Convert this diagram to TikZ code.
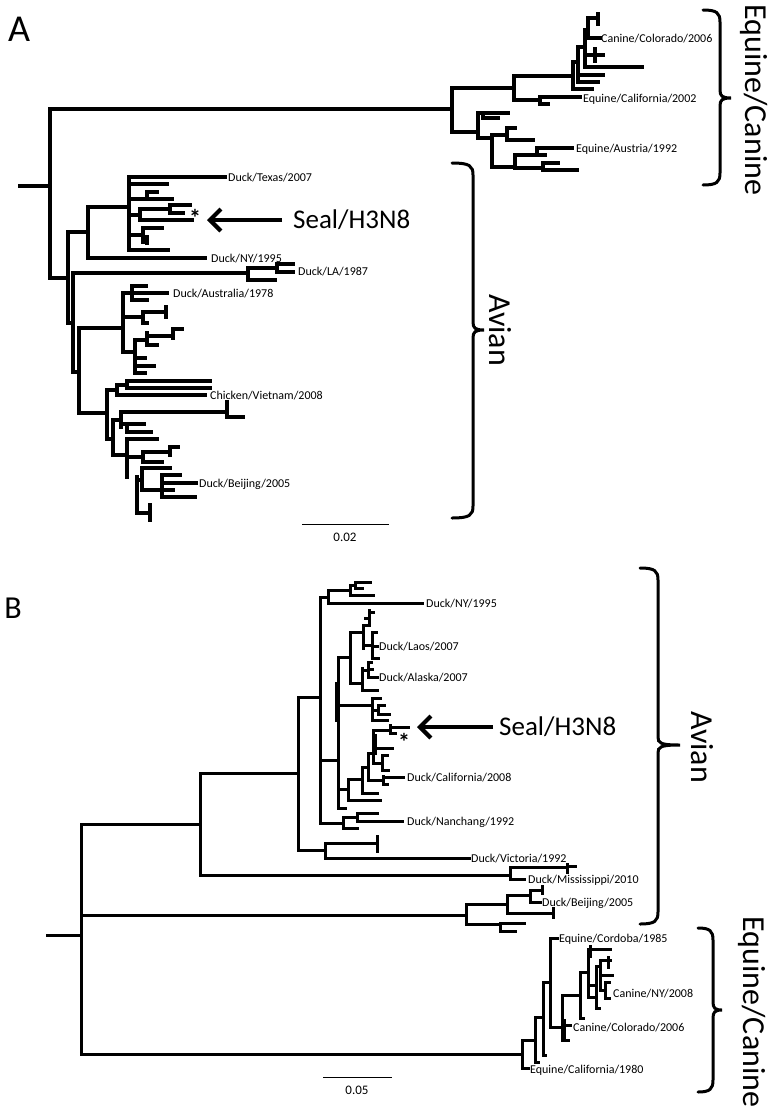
\documentclass[tikz,border=0pt]{standalone}
\usepackage{fontspec}
\setmainfont{Carlito}
\usetikzlibrary{arrows.meta}

\tikzset{
  leaf/.style={anchor=west, inner sep=0pt, text height=8pt, text depth=0pt, font=\fontsize{12}{12}\selectfont},
  cladename/.style={rotate=-90, inner sep=0pt, font=\fontsize{32}{32}\selectfont},
  bracket/.style={line width=3pt, line cap=round},
  seal arrow/.style={line width=4.8pt, -{Straight Barb[length=11pt, width=22pt, line width=4.2pt]}},
  star/.style={inner sep=0pt, font=\bfseries\fontsize{24}{24}\selectfont}
}

% #1 end x, #2 body x, #3 cusp x, #4 top y, #5 cusp y, #6 bottom y
\newcommand{\cladebrace}[6]{%
  \draw[bracket] (#1,#4) .. controls ({#2-3},#4) and (#2,{#4+3}) .. (#2,{#4+12})
    -- (#2,{#5-8}) .. controls (#2,{#5-2}) and ({#2+2},#5) .. (#3,#5)
    .. controls ({#2+2},#5) and (#2,{#5+2}) .. (#2,{#5+8})
    -- (#2,{#6-12}) .. controls (#2,{#6-3}) and ({#2-3},#6) .. (#1,#6);}

\begin{document}
\begin{tikzpicture}[x=1pt, y=-1pt,
  branchA/.style={line width=3.3pt, line cap=rect},
  branchB/.style={line width=3pt, line cap=rect}]
  \useasboundingbox (0,0) rectangle (771,1114);

  % panel A
  \node[font=\fontsize{38}{38}\selectfont, inner sep=0pt] (panelA) at (19,29) {A};
  \foreach \x/\ya/\yb in {50/109/278, 452/88/132, 514/76/100, 540/97/104, 573/62/89, 578/47/82,
      585/30/67, 588/18/38, 598/14/24, 595/49/61, 478/113/138, 483/113/118, 492/135/167,
      507/128/140, 515/155/168, 537/148/155, 543/163/170,
      68/232/323, 73/273/372, 79/328/413, 88/207/258, 129/177/250, 147/192/199, 140/209/220,
      170/205/213, 143/228/242, 147/237/243, 248/268/280, 277/264/272, 123/293/352, 132/286/300,
      143/312/323, 166/307/317, 135/340/373, 147/333/345, 173/329/338, 107/390/439, 117/385/395,
      127/381/388, 113/420/455, 121/412/427, 227/402/417, 127/424/432, 127/439/477, 143/452/462,
      170/447/455, 137/477/513, 142/468/490, 162/475/497, 150/505/520}
    \draw[branchA] (\x,\ya) -- (\x,\yb);
  \foreach \y/\xa/\xb in {186/20/50, 109/50/452, 88/452/514, 132/452/478, 76/514/573, 100/514/540,
      97/540/580, 104/540/548, 62/573/578, 89/573/592, 47/578/585, 75/578/603, 82/578/598,
      30/585/588, 67/585/642, 55/585/603, 18/588/598, 38/588/600, 113/478/508, 118/483/498,
      138/478/492, 135/492/507, 128/507/515, 140/507/533, 167/492/515, 155/515/545, 148/537/572,
      168/515/543, 163/543/558, 170/543/577}
    \draw[branchA] (\xa,\y) -- (\xb,\y);
  \foreach \y/\xa/\xb in {278/50/68, 232/68/88, 323/68/73, 273/73/248, 372/73/79, 328/79/123,
      413/79/107, 207/88/129, 258/88/205, 177/129/225, 184/129/167, 199/129/172, 192/147/157,
      215/129/140, 209/140/170, 220/140/192, 205/170/190, 213/170/183, 235/129/143, 228/143/162,
      242/143/147, 250/129/168, 268/248/277, 264/277/293, 272/277/293, 280/248/275, 293/123/132,
      286/132/146, 293/132/167, 300/132/147, 317/123/143, 312/143/166, 323/143/147, 352/123/135,
      340/135/147, 336/147/173, 329/173/182, 345/147/157, 358/135/145, 366/135/154, 373/135/145,
      390/107/117, 385/117/127, 381/127/210, 388/127/210, 395/117/205, 439/107/113, 420/113/121,
      412/121/227, 417/227/243, 424/121/144, 432/127/151, 455/113/127, 439/127/157, 457/127/143,
      452/143/170, 447/170/178, 462/143/162, 480/137/142, 468/142/170, 490/142/173, 475/162/180,
      483/162/196, 497/162/195, 513/137/150}
    \draw[branchA] (\xa,\y) -- (\xb,\y);

  \node[leaf] (ccoA) at (601,38) {Canine/Colorado/2006};
  \node[leaf] (ecaA) at (583,98) {Equine/California/2002};
  \node[leaf] (eauA) at (576,148) {Equine/Austria/1992};
  \node[leaf] (dtxA) at (228,177) {Duck/Texas/2007};
  \node[leaf] (dnyA) at (211,258) {Duck/NY/1995};
  \node[leaf] (dlaA) at (298,271) {Duck/LA/1987};
  \node[leaf] (dauA) at (173,293) {Duck/Australia/1978};
  \node[leaf] (cvnA) at (210,395) {Chicken/Vietnam/2008};
  \node[leaf] (dbjA) at (199,483) {Duck/Beijing/2005};
  \node[star] (starA) at (195,218) {*};

  \coordinate (tipA) at (207,220);
  \coordinate (tailA) at (282,220);
  \draw[seal arrow] (tailA) -- (tipA);
  \node[anchor=west, inner sep=0pt, font=\fontsize{27}{27}\selectfont] (sealA) at (293,220) {Seal/H3N8};

  \cladebrace{703}{720}{731}{10}{98}{185}
  \node[cladename] (eqA) at (754,100) {Equine/Canine};
  \cladebrace{452}{473}{484}{163}{330}{518}
  \node[cladename] (avA) at (500,330) {Avian};

  \coordinate (barA1) at (302,524);
  \coordinate (barA2) at (389,524);
  \draw[line width=1pt] (barA1) -- (barA2);
  \node[font=\fontsize{13}{13}\selectfont, inner sep=0pt] (sclA) at (345,537) {0.02};

  % panel B
  \node[font=\fontsize{32}{32}\selectfont, inner sep=0pt] (panelB) at (13,608) {B};
  \foreach \x/\ya/\yb in {81/824/1054, 200/773/875, 298/697/850, 320/597/823, 328/590/603,
      350/585/595, 355/582/588, 325/843/858, 377/836/851, 338/657/808, 336/683/720, 350/632/683,
      363/625/648, 369/610/625, 372/632/658, 362/668/690, 368/662/677, 372/698/720, 378/705/714,
      348/779/800, 362/767/793, 368/753/780, 383/776/784, 373/730/763, 375/735/753, 390/725/733,
      382/755/770, 343/817/828, 357/813/821, 510/867/879, 567/864/872, 466/904/924, 507/895/913,
      530/890/902, 542/886/893, 553/908/917, 500/923/931, 522/1040/1068, 535/1017/1062,
      543/982/1055, 550/938/1027, 562/995/1040, 564/1020/1040, 580/972/1018, 588/949/997,
      590/946/956, 596/966/1008, 600/960/990, 605/982/998, 608/957/967}
    \draw[branchB] (\x,\ya) -- (\x,\yb);
  \foreach \y/\xa/\xb in {935/47/81, 824/81/200, 915/81/466, 1054/81/522, 773/200/298, 875/200/510,
      697/298/320, 850/298/325, 843/325/377, 858/325/469, 597/320/328, 590/328/350, 603/328/422,
      585/350/355, 582/355/370, 588/355/362, 595/350/373, 760/320/338, 657/338/350, 632/350/363,
      625/363/369, 612/369/373, 618/365/369, 645/363/372, 632/372/376, 646/372/377, 658/372/378,
      683/350/362, 670/362/368, 662/368/371, 669/368/372, 677/368/377, 690/362/377, 705/338/372,
      698/372/380, 710/372/378, 705/378/384, 714/378/389, 720/372/387, 789/338/348, 800/348/380,
      779/348/362, 793/362/377, 767/362/368, 780/368/383, 777/383/403, 784/383/387, 753/368/373,
      730/373/390, 727/390/408, 733/390/395, 748/373/392, 763/373/382, 755/382/387, 770/382/388,
      808/338/345, 823/320/343, 817/343/357, 813/357/377, 821/357/402, 828/343/357}
    \draw[branchB] (\xa,\y) -- (\xb,\y);
  \foreach \y/\xa/\xb in {867/510/567, 866/567/575, 879/510/524, 904/466/507, 895/507/530,
      890/530/542, 902/530/540, 913/507/553, 924/466/500, 923/500/524, 931/500/515, 1040/522/535,
      1068/522/528, 1017/535/543, 1062/535/538, 982/543/550, 1055/543/545, 938/550/557,
      1027/550/562, 995/562/580, 1025/562/570, 1040/562/568, 972/580/588, 1018/580/583,
      949/588/610, 997/588/594, 985/588/596, 1008/596/599, 966/596/600, 960/600/610, 975/600/612,
      990/600/605, 982/605/609, 998/605/609}
    \draw[branchB] (\xa,\y) -- (\xb,\y);

  \node[leaf] (dnyB) at (426,603) {Duck/NY/1995};
  \node[leaf] (dlsB) at (379,646) {Duck/Laos/2007};
  \node[leaf] (dakB) at (379,677) {Duck/Alaska/2007};
  \node[leaf] (dcaB) at (407,777) {Duck/California/2008};
  \node[leaf] (dncB) at (407,821) {Duck/Nanchang/1992};
  \node[leaf] (dvcB) at (471,858) {Duck/Victoria/1992};
  \node[leaf] (dmsB) at (528,879) {Duck/Mississippi/2010};
  \node[leaf] (dbjB) at (542,902) {Duck/Beijing/2005};
  \node[leaf] (ecdB) at (559,938) {Equine/Cordoba/1985};
  \node[leaf] (cnyB) at (613,993) {Canine/NY/2008};
  \node[leaf] (ccoB) at (573,1027) {Canine/Colorado/2006};
  \node[leaf] (ecaB) at (530,1069) {Equine/California/1980};
  \node[star] (starB) at (404,742) {*};

  \coordinate (tipB) at (417,727);
  \coordinate (tailB) at (493,727);
  \draw[seal arrow] (tailB) -- (tipB);
  \node[anchor=west, inner sep=0pt, font=\fontsize{27}{27}\selectfont] (sealB) at (499,727) {Seal/H3N8};

  \cladebrace{640}{658}{680}{568}{745}{924}
  \node[cladename] (avB) at (702,747) {Avian};
  \cladebrace{698}{713}{722}{928}{1010}{1092}
  \node[cladename] (eqB) at (752,1012) {Equine/Canine};

  \coordinate (barB1) at (323,1077);
  \coordinate (barB2) at (392,1077);
  \draw[line width=1pt] (barB1) -- (barB2);
  \node[font=\fontsize{13}{13}\selectfont, inner sep=0pt] (sclB) at (357,1090) {0.05};
\end{tikzpicture}
\end{document}
